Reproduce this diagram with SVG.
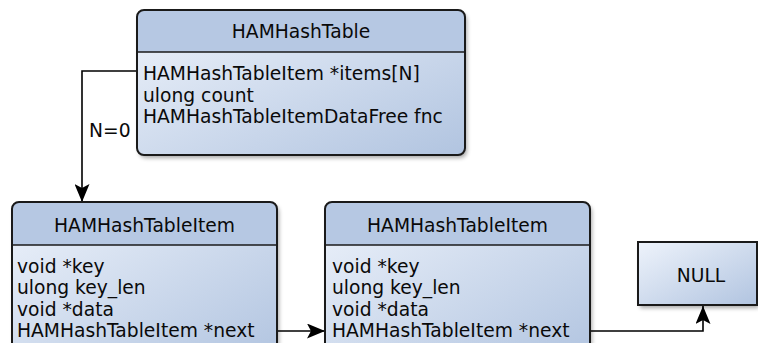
<svg xmlns="http://www.w3.org/2000/svg" width="758" height="343" viewBox="0 0 758 343">
<defs>
<linearGradient id="body" x1="0" y1="0" x2="1" y2="1">
<stop offset="0" stop-color="#eef3fb"/>
<stop offset="1" stop-color="#b1c4e0"/>
</linearGradient>
<filter id="sh" x="-10%" y="-10%" width="130%" height="140%">
<feGaussianBlur in="SourceAlpha" stdDeviation="2"/>
<feOffset dx="2" dy="3" result="b"/>
<feComponentTransfer><feFuncA type="linear" slope="0.35"/></feComponentTransfer>
<feMerge><feMergeNode/><feMergeNode in="SourceGraphic"/></feMerge>
</filter>
<marker id="arr" viewBox="0 0 18 15" refX="18" refY="7.5" markerWidth="18" markerHeight="15" markerUnits="userSpaceOnUse" orient="auto">
<path d="M0,0 L18,7.5 L0,15 L4,7.5 z" fill="#000"/>
</marker>
<clipPath id="cTop"><rect x="137" y="10" width="328" height="145" rx="7"/></clipPath>
<clipPath id="cL"><rect x="12" y="202" width="265" height="160" rx="7"/></clipPath>
<clipPath id="cM"><rect x="325" y="202" width="265" height="160" rx="7"/></clipPath>
</defs>
<style>
text{font-family:"DejaVu Sans","Verdana",sans-serif;font-size:18.7px;fill:#0a0a0a}
.t{text-anchor:middle}
.box{fill:url(#body);stroke:none}
.hdr{fill:#b6c8e3}
.out{fill:none;stroke:#1a1a1a;stroke-width:2}
.div{stroke:#1a1a1a;stroke-width:1.5}
.conn{fill:none;stroke:#000;stroke-width:1.6;marker-end:url(#arr)}
</style>
<g id="connectors">
<path class="conn" d="M137,71 H82 V202"/>
<text x="89" y="137">N=0</text>
<path class="conn" d="M277,331 H325"/>
<path class="conn" d="M590,331 H703 V306"/>
</g>
<g id="HAMHashTable">
<g filter="url(#sh)">
<rect class="box" x="137" y="10" width="328" height="145" rx="7"/>
</g>
<rect class="hdr" x="137" y="10" width="328" height="42" clip-path="url(#cTop)"/>
<line class="div" x1="137" y1="52" x2="465" y2="52"/>
<rect class="out" x="137" y="10" width="328" height="145" rx="7"/>
<text class="t" x="301" y="38">HAMHashTable</text>
<text x="143" y="80">HAMHashTableItem *items[N]</text>
<text x="143" y="101.5">ulong count</text>
<text x="143" y="123">HAMHashTableItemDataFree fnc</text>
</g>
<g id="HAMHashTableItem1">
<g filter="url(#sh)">
<rect class="box" x="12" y="202" width="265" height="160" rx="7"/>
</g>
<rect class="hdr" x="12" y="202" width="265" height="43" clip-path="url(#cL)"/>
<line class="div" x1="12" y1="245" x2="277" y2="245"/>
<rect class="out" x="12" y="202" width="265" height="160" rx="7"/>
<text class="t" x="144.5" y="231.5">HAMHashTableItem</text>
<text x="17" y="272.5">void *key</text>
<text x="17" y="294">ulong key_len</text>
<text x="17" y="315.5">void *data</text>
<text x="17" y="337">HAMHashTableItem *next</text>
</g>
<g id="HAMHashTableItem2">
<g filter="url(#sh)">
<rect class="box" x="325" y="202" width="265" height="160" rx="7"/>
</g>
<rect class="hdr" x="325" y="202" width="265" height="43" clip-path="url(#cM)"/>
<line class="div" x1="325" y1="245" x2="590" y2="245"/>
<rect class="out" x="325" y="202" width="265" height="160" rx="7"/>
<text class="t" x="457.5" y="231.5">HAMHashTableItem</text>
<text x="332" y="272.5">void *key</text>
<text x="332" y="294">ulong key_len</text>
<text x="332" y="315.5">void *data</text>
<text x="332" y="337">HAMHashTableItem *next</text>
</g>
<g id="NULL">
<rect x="638" y="242" width="119" height="63" fill="url(#body)" filter="url(#sh)"/>
<rect class="out" x="638" y="242" width="119" height="63"/>
<text class="t" x="701" y="282">NULL</text>
</g>
</svg>
